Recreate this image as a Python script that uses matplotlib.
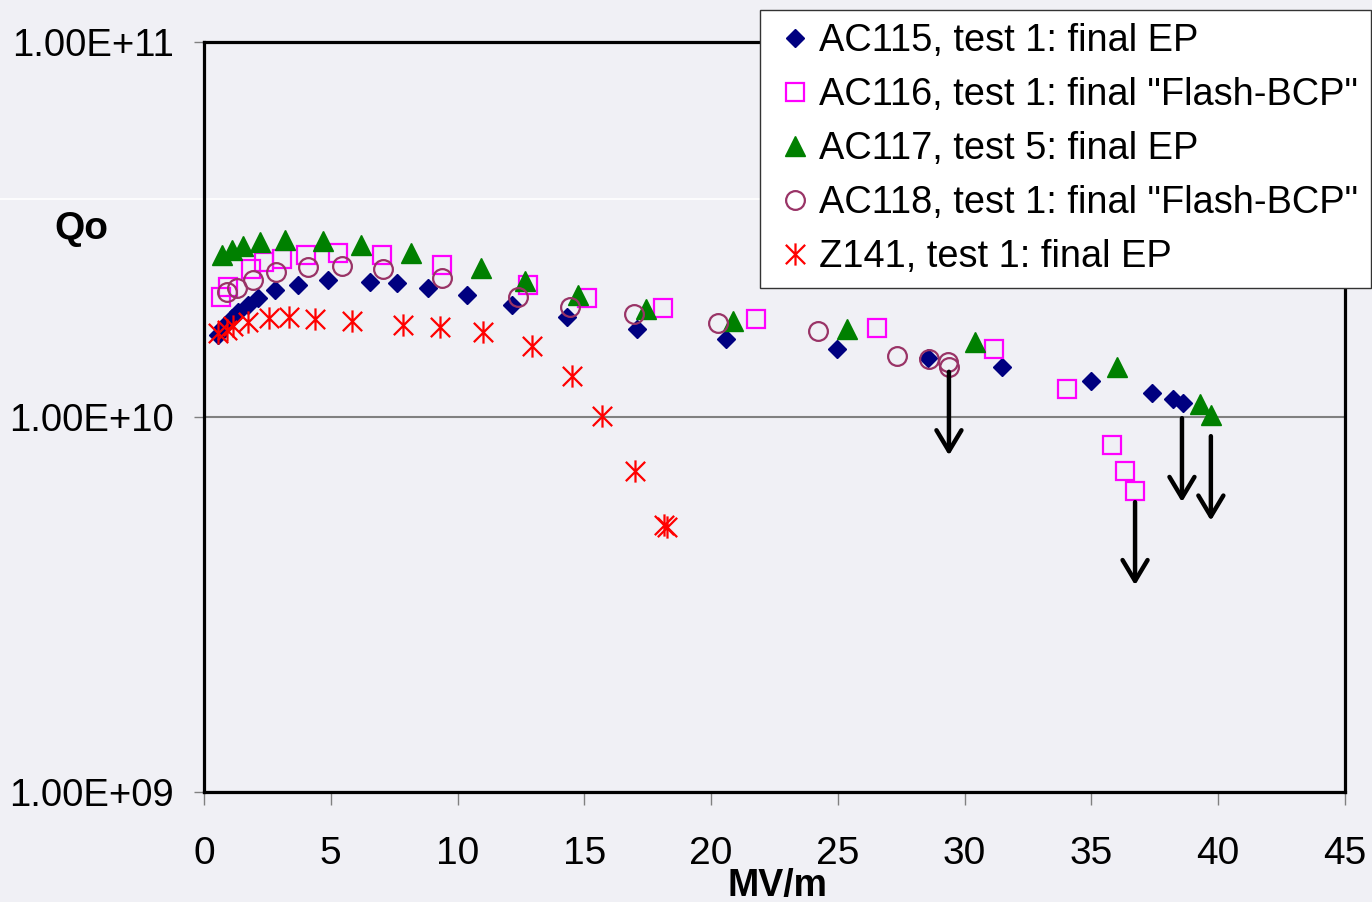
import matplotlib
matplotlib.use('Agg')
import matplotlib.pyplot as plt
from matplotlib.path import Path
from matplotlib.lines import Line2D
from matplotlib.ticker import FixedLocator, FuncFormatter, NullLocator

plt.rcParams['font.family'] = ['Liberation Sans', 'DejaVu Sans']

# Qo vs accelerating gradient (MV/m)
ac115_x = [0.55, 0.75, 1.10, 1.34, 1.74, 2.13, 2.80, 3.71, 4.89, 6.55, 7.61, 8.83, 10.37, 12.15,
           14.32, 17.08, 20.59, 24.96, 28.55, 31.47, 34.98, 37.39, 38.22, 38.61]
ac115_q = [1.65e10, 1.74e10, 1.84e10, 1.905e10, 1.99e10, 2.08e10, 2.18e10, 2.25e10, 2.32e10, 2.29e10,
           2.27e10, 2.21e10, 2.11e10, 1.99e10, 1.85e10, 1.72e10, 1.61e10, 1.52e10, 1.44e10, 1.36e10,
           1.25e10, 1.16e10, 1.12e10, 1.09e10]

ac116_x = [0.67, 0.95, 1.85, 2.37, 3.08, 4.02, 5.28, 7.02, 9.39, 12.78, 15.10, 18.10, 21.77,
           26.54, 31.16, 34.04, 35.81, 36.32, 36.72]
ac116_q = [2.09e10, 2.22e10, 2.48e10, 2.59e10, 2.64e10, 2.70e10, 2.74e10, 2.70e10, 2.54e10, 2.25e10,
           2.08e10, 1.95e10, 1.82e10, 1.73e10, 1.52e10, 1.19e10, 8.4e9, 7.18e9, 6.35e9]

ac117_x = [0.71, 1.10, 1.54, 2.21, 3.19, 4.69, 6.19, 8.16, 10.92, 12.66, 14.75, 17.43, 20.86,
           25.36, 30.41, 36.01, 39.28, 39.71]
ac117_q = [2.70e10, 2.79e10, 2.86e10, 2.93e10, 2.97e10, 2.95e10, 2.88e10, 2.74e10, 2.50e10, 2.31e10,
           2.11e10, 1.94e10, 1.80e10, 1.72e10, 1.585e10, 1.36e10, 1.08e10, 1.01e10]

ac118_x = [0.91, 1.30, 1.93, 2.84, 4.10, 5.44, 7.06, 9.39, 12.38, 14.43, 16.96, 20.27, 24.22,
           27.33, 28.59, 29.34, 29.38]
ac118_q = [2.15e10, 2.21e10, 2.32e10, 2.44e10, 2.51e10, 2.53e10, 2.48e10, 2.35e10, 2.09e10, 1.96e10,
           1.88e10, 1.78e10, 1.70e10, 1.45e10, 1.43e10, 1.40e10, 1.36e10]

z141_x = [0.55, 0.91, 1.14, 1.74, 2.56, 3.35, 4.38, 5.84, 7.85, 9.31, 11.00, 12.94, 14.51,
          15.70, 17.00, 18.14, 18.26]
z141_q = [1.67e10, 1.71e10, 1.75e10, 1.79e10, 1.84e10, 1.85e10, 1.82e10, 1.80e10, 1.76e10, 1.74e10,
          1.69e10, 1.55e10, 1.29e10, 1.006e10, 7.18e9, 5.15e9, 5.09e9]

labels = ['AC115, test 1: final EP', 'AC116, test 1: final "Flash-BCP"', 'AC117, test 5: final EP',
          'AC118, test 1: final "Flash-BCP"', 'Z141, test 1: final EP']

# limit arrows
arrow_x = [29.38, 36.72, 38.57, 39.71]
arrow_from = [1.32e10, 5.93e9, 9.93e9, 8.89e9]
arrow_to = [7.9e9, 3.56e9, 5.93e9, 5.29e9]

x_ticks = [0, 5, 10, 15, 20, 25, 30, 35, 40, 45]
y_ticks = [1e9, 1e10, 1e11]

bg = '#F0F0F5'

# six-armed asterisk like the spreadsheet marker
star = Path([(-1, -1), (1, 1), (-1, 1), (1, -1), (0, -1.15), (0, 1.15)],
            [Path.MOVETO, Path.LINETO] * 3)

fig = plt.figure(figsize=(13.72, 9.02), dpi=100, facecolor=bg)
ax = fig.add_axes([204 / 1372, 1 - 792 / 902, (1345 - 204) / 1372, (792 - 42) / 902])
ax.set_facecolor('none')

ax.plot(ac115_x, ac115_q, ls='none', marker='D', ms=9.5, color='#000080', label=labels[0])
ax.plot(ac116_x, ac116_q, ls='none', marker='s', ms=13.5, mfc='none', mec='#FF00FF', mew=1.6,
        label=labels[1])
ax.plot(ac117_x, ac117_q, ls='none', marker='^', ms=14, color='#008000', label=labels[2])
ax.plot(ac118_x, ac118_q, ls='none', marker='o', ms=13.5, mfc='none', mec='#993366', mew=1.6,
        label=labels[3])
ax.plot(z141_x, z141_q, ls='none', marker=star, ms=16, mfc='none', mec='#FF0000', mew=1.6,
        label=labels[4])

for x, y0, y1 in zip(arrow_x, arrow_from, arrow_to):
    ax.annotate('', xy=(x, y1), xytext=(x, y0),
                arrowprops=dict(arrowstyle='->,head_length=0.75,head_width=0.45', lw=3.2,
                                color='black', shrinkA=0, shrinkB=0, mutation_scale=20))

ax.set_yscale('log')
ax.set_xlim(0, 45)
ax.set_ylim(1e9, 1e11)
ax.xaxis.set_major_locator(FixedLocator(x_ticks))
ax.yaxis.set_major_locator(FixedLocator(y_ticks))
ax.yaxis.set_minor_locator(NullLocator())
ax.yaxis.set_major_formatter(FuncFormatter(lambda v, p: format(v, '.2E')))
ax.grid(axis='y', which='major', color='#808080', lw=1.5)
ax.set_axisbelow(True)

ax.tick_params(axis='x', length=9.5, width=1, color='#808080', pad=22, labelsize=28)
ax.tick_params(axis='y', length=7.5, width=1, color='#808080', pad=14, labelsize=27.5)
for s in ax.spines.values():
    s.set_linewidth(2.3)
    s.set_color('black')

leg = ax.legend(loc='upper right', bbox_to_anchor=(1371 / 1372, 1 - 10 / 902),
                bbox_transform=fig.transFigure, borderaxespad=0, fontsize=27.4,
                frameon=True, fancybox=False, framealpha=1, edgecolor='#333333',
                handlelength=1.15, handletextpad=0.05, labelspacing=0.47, borderpad=0.35)
leg.get_frame().set_linewidth(1)

fig.text(81 / 1372, 1 - 229 / 902, 'Qo', ha='center', va='center', fontsize=28, fontweight='bold')
fig.text(777 / 1372, 1 - 896 / 902, 'MV/m', ha='center', va='baseline', fontsize=27,
         fontweight='bold')

# faint white rule across the picture, behind the (transparent) plot area and the legend
fig.add_artist(Line2D([0, 1], [1 - 199 / 902] * 2, transform=fig.transFigure, color='white',
                      lw=1.2, zorder=-1))

fig.savefig('out.png', dpi=100, facecolor=bg)
